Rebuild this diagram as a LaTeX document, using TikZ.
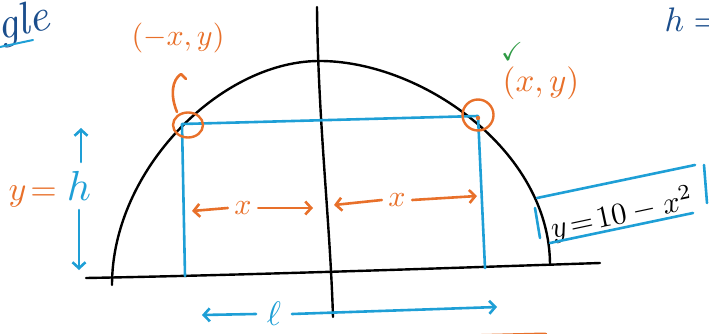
\documentclass[tikz,border=0pt]{standalone}
\usepackage{amssymb}
\usetikzlibrary{arrows.meta,shapes.geometric}
\definecolor{org}{HTML}{E8702A}
\definecolor{sky}{HTML}{1E9FD6}
\definecolor{navy}{HTML}{1B4E8C}
\definecolor{chk}{HTML}{2E9A44}
\begin{document}
\begin{tikzpicture}[x=1pt,y=-1pt, line cap=round, line join=round,
  blk/.style={draw=black, line width=2.4pt},
  bl/.style={draw=sky, line width=2.6pt},
  orl/.style={draw=org, line width=2.6pt},
  barb/.style={-{Straight Barb[length=6pt,width=13pt]}},
  lab/.style={inner sep=0pt}]
\useasboundingbox (0,0) rectangle (709,334);
\clip (0,0) rectangle (709,334);

% axes
\coordinate (hL) at (86,278); \coordinate (hR) at (600,263);
\coordinate (vT) at (317,7); \coordinate (vB) at (333,317);
\draw[blk] (hL) .. controls (250,275) and (450,268) .. (hR);
\draw[blk] (vT) .. controls (318,120) and (330,220) .. (vB);

% semicircle
\coordinate (fL) at (112,285); \coordinate (top) at (318,61); \coordinate (fR) at (550,265);
\draw[blk] (fL) .. controls (112,170) and (220,62) .. (top) .. controls (420,60) and (550,150) .. (fR);

% rectangle
\coordinate (TL) at (182,124); \coordinate (TR) at (478,116);
\coordinate (BR) at (485,268); \coordinate (BL) at (185,276);
\draw[bl] (BL) -- (TL) -- (TR) -- (BR);

% corner circles
\node[draw=org, line width=2.4pt, ellipse, minimum width=30pt, minimum height=25pt, inner sep=0pt] (cL) at (188,125) {};
\node[draw=org, line width=2.4pt, circle, minimum size=31pt, inner sep=0pt] (cR) at (478,115) {};
\fill[org] (478,118) circle (2.2pt);

% left pointer
\coordinate (aS) at (177,112);
\coordinate (aE) at (181,74);
\coordinate (aH) at (186,79);
\draw[orl] (aS) .. controls (170,95) and (172,80) .. (aE) -- (aH);

% point labels
\node[lab, text=org, scale=3.0] (pL) at (178,38) {$(-x,y)$};
\node[lab, text=org, scale=3.3] (pR) at (541,83) {$(x,y)$};
\node[lab, text=chk, scale=2.6] (ck) at (512,52) {$\checkmark$};

% top fragments
\node[lab, anchor=base east, rotate=14, text=navy, scale=4.5] (ttl) at (56,27) {$\mathit{ngle}$};
\coordinate (u1) at (0,47); \coordinate (u2) at (33,40);
\draw[draw=sky, line width=2pt] (u1) -- (u2);
\node[lab, anchor=base west, text=navy, scale=3.4] (hq) at (664,32) {$h=$};

% y = h
\node[lab, anchor=base west, text=org, scale=3.4] (yq) at (8,200) {$y\!=$};
\node[lab, anchor=base west, text=sky, scale=4.2] (hh) at (66,200) {$h$};
\coordinate (upS) at (81,162); \coordinate (upT) at (81,128);
\coordinate (dnS) at (79,210); \coordinate (dnT) at (79,270);
\draw[bl, barb] (upS) -- (upT);
\draw[bl, barb] (dnS) -- (dnT);

% x arrows
\node[text=org, inner xsep=2pt, inner ysep=0pt, scale=3] (x1) at (243,208) {$x$};
\coordinate (x1L) at (192,211); \coordinate (x1R) at (313,208);
\draw[orl, barb] (x1.west) -- (x1L);
\draw[orl, barb] (x1.east) -- (x1R);
\node[text=org, inner xsep=2pt, inner ysep=0pt, scale=3] (x2) at (397,200) {$x$};
\coordinate (x2L) at (334,205); \coordinate (x2R) at (477,196);
\draw[orl, barb] (x2.west) -- (x2L);
\draw[orl, barb] (x2.east) -- (x2R);

% l arrow
\node[text=sky, inner xsep=3pt, inner ysep=0pt, scale=3.4] (ll) at (274,314) {$\ell$};
\coordinate (lL) at (202,315); \coordinate (lR) at (497,307);
\draw[bl, barb] (ll.west) -- (lL);
\draw[bl, barb] (ll.east) -- (lR);

% boxed equation
\node[lab, rotate=12, scale=3.05] (eq) at (622,214) {$y\!=\!10-x^2$};
\coordinate (b1) at (537,198); \coordinate (b2) at (695,165);
\coordinate (b3) at (550,243); \coordinate (b4) at (693,213);
\coordinate (b5) at (535,208); \coordinate (b6) at (540,238);
\coordinate (b7) at (704,165); \coordinate (b8) at (707,203);
\draw[bl] (b1) -- (b2);
\draw[bl] (b3) -- (b4);
\draw[bl] (b5) -- (b6);
\draw[bl] (b7) -- (b8);

% bottom fragment
\coordinate (o1) at (460,337); \coordinate (o2) at (545,335);
\draw[draw=org, line width=5pt] (o1) -- (o2);
\end{tikzpicture}
\end{document}
